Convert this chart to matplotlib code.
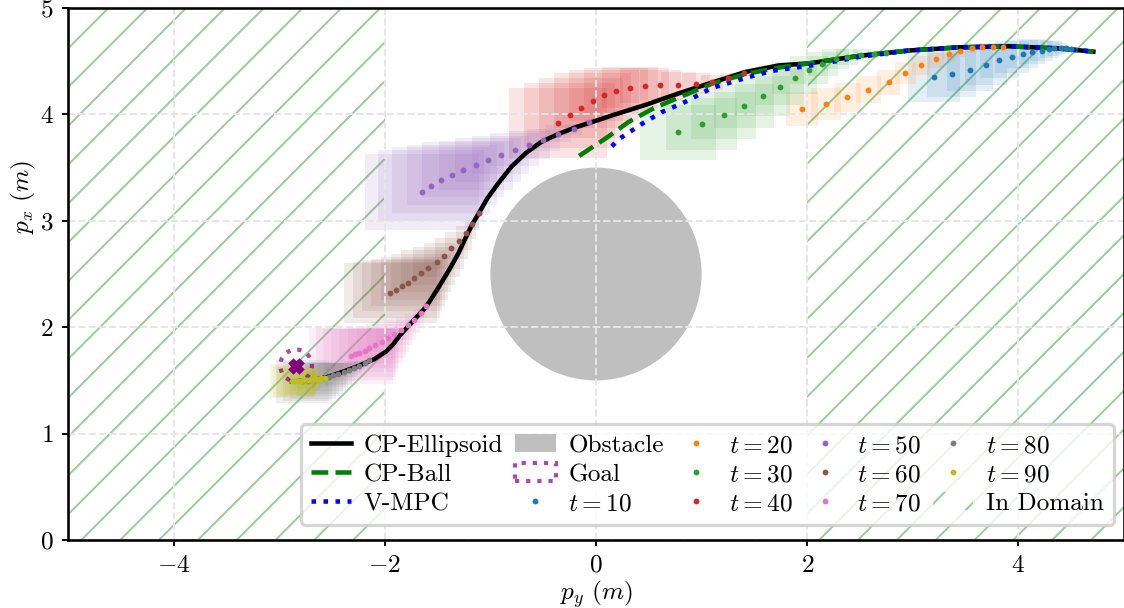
import matplotlib.pyplot as plt
import numpy as np
from matplotlib.patches import Circle, Rectangle

plt.rcParams['font.family'] = 'serif'
plt.rcParams['font.serif'] = ['cmr10']
plt.rcParams['mathtext.fontset'] = 'cm'
plt.rcParams['axes.formatter.use_mathtext'] = True
plt.rcParams['font.size'] = 7.8
plt.rcParams['hatch.linewidth'] = 0.6

# trajectories (p_y, p_x)
ell_x = [-2.88, -2.70, -2.55, -2.40, -2.24, -2.10, -1.99, -1.92, -1.86, -1.74, -1.61, -1.50, -1.39,
         -1.30, -1.23, -1.17, -1.11, -1.03, -0.92, -0.80, -0.66, -0.52, -0.37, -0.19, 0.0, 0.15,
         0.47, 0.79, 1.10, 1.42, 1.73, 2.02, 2.49, 2.96, 3.43, 3.91, 4.38, 4.71]
ell_y = [1.49, 1.50, 1.53, 1.58, 1.64, 1.70, 1.77, 1.84, 1.92, 2.05, 2.19, 2.36, 2.54,
         2.70, 2.85, 2.97, 3.07, 3.21, 3.36, 3.51, 3.64, 3.74, 3.81, 3.88, 3.94, 3.99,
         4.09, 4.20, 4.30, 4.40, 4.46, 4.48, 4.55, 4.60, 4.63, 4.64, 4.62, 4.59]
ball_x = [-0.16, 0.10, 0.31, 0.55, 0.79, 1.10, 1.42, 1.73, 2.02, 2.49, 2.96, 3.43, 3.91, 4.38, 4.71]
ball_y = [3.61, 3.78, 3.93, 4.06, 4.16, 4.29, 4.38, 4.44, 4.48, 4.55, 4.60, 4.63, 4.64, 4.62, 4.59]
vmpc_x = [0.15, 0.22, 0.45, 0.62, 0.85, 1.10, 1.48, 1.67, 2.11, 2.49, 2.96, 3.43, 3.91, 4.38, 4.71]
vmpc_y = [3.70, 3.77, 3.92, 4.02, 4.12, 4.25, 4.36, 4.41, 4.47, 4.54, 4.60, 4.63, 4.64, 4.62, 4.59]

obstacle_center = (0.0, 2.5)
obstacle_radius = 1.0
goal_center = (-2.84, 1.64)
goal_radius = 0.15
domain_spans = [(-5, -2), (2, 5)]

# predictions at each time step, far horizon -> near
steps = [10, 20, 30, 40, 50, 60, 70, 80, 90]
pred_x = [
    [3.20, 3.37, 3.54, 3.69, 3.82, 3.94, 4.04, 4.13, 4.22, 4.29, 4.34, 4.40, 4.45, 4.50],
    [1.95, 2.18, 2.38, 2.58, 2.77, 2.93, 3.08, 3.22, 3.34, 3.45, 3.56, 3.66, 3.76, 3.85],
    [0.78, 1.00, 1.21, 1.40, 1.58, 1.74, 1.88, 2.02, 2.14, 2.27, 2.38, 2.51, 2.63, 2.75],
    [-0.36, -0.25, -0.14, -0.03, 0.08, 0.19, 0.32, 0.46, 0.61, 0.78, 0.95, 1.10, 1.25, 1.40],
    [-1.65, -1.56, -1.47, -1.36, -1.26, -1.14, -1.02, -0.90, -0.77, -0.63, -0.50, -0.36, -0.21, -0.07],
    [-1.95, -1.89, -1.84, -1.78, -1.72, -1.66, -1.59, -1.51, -1.44, -1.37, -1.30, -1.23, -1.17, -1.11],
    [-2.32, -2.28, -2.24, -2.19, -2.15, -2.09, -2.03, -1.97, -1.91, -1.85, -1.78, -1.72, -1.66, -1.61],
    [-2.78, -2.73, -2.68, -2.63, -2.58, -2.53, -2.49, -2.44, -2.39, -2.34, -2.29, -2.24, -2.19, -2.15],
    [-2.88, -2.86, -2.84, -2.82, -2.79, -2.77, -2.74, -2.72, -2.69, -2.67, -2.64, -2.62, -2.60, -2.57],
]
pred_y = [
    [4.35, 4.38, 4.42, 4.46, 4.51, 4.54, 4.57, 4.59, 4.60, 4.61, 4.62, 4.62, 4.62, 4.61],
    [4.05, 4.10, 4.16, 4.23, 4.30, 4.39, 4.46, 4.52, 4.57, 4.60, 4.62, 4.63, 4.63, 4.63],
    [3.83, 3.91, 3.99, 4.08, 4.17, 4.26, 4.34, 4.42, 4.47, 4.52, 4.54, 4.56, 4.57, 4.58],
    [3.92, 3.99, 4.06, 4.13, 4.18, 4.22, 4.25, 4.27, 4.28, 4.28, 4.29, 4.30, 4.34, 4.39],
    [3.27, 3.33, 3.38, 3.43, 3.48, 3.52, 3.57, 3.62, 3.67, 3.71, 3.76, 3.82, 3.86, 3.93],
    [2.32, 2.35, 2.39, 2.42, 2.46, 2.51, 2.56, 2.61, 2.67, 2.74, 2.81, 2.89, 2.97, 3.07],
    [1.73, 1.75, 1.76, 1.78, 1.80, 1.83, 1.86, 1.90, 1.94, 1.97, 2.02, 2.07, 2.13, 2.20],
    [1.49, 1.49, 1.50, 1.51, 1.52, 1.53, 1.55, 1.56, 1.58, 1.60, 1.62, 1.64, 1.66, 1.69],
    [1.49, 1.49, 1.49, 1.49, 1.49, 1.50, 1.50, 1.50, 1.50, 1.51, 1.51, 1.51, 1.52, 1.52],
]
# largest uncertainty box half-size (p_y, p_x) for each time step
box_hx = [0.25, 0.15, 0.36, 0.46, 0.54, 0.44, 0.40, 0.25, 0.21]
box_hy = [0.23, 0.16, 0.26, 0.33, 0.36, 0.28, 0.26, 0.20, 0.16]
# relative box size along the horizon, far -> near
box_scale = [1.0, 0.93, 0.86, 0.79, 0.72, 0.65, 0.58, 0.5, 0.43, 0.36, 0.29, 0.22, 0.15, 0.08]

colors = ['tab:blue', 'tab:orange', 'tab:green', 'tab:red', 'tab:purple',
          'tab:brown', 'tab:pink', 'tab:gray', 'tab:olive']

dpi = 233
fig = plt.figure(figsize=(1124 / dpi, 608 / dpi), dpi=dpi)
ax = fig.add_axes([68 / 1124, 68 / 608, 1 - 68 / 1124, 532 / 608])

# hatched domain
for i, (a, b) in enumerate(domain_spans):
    ax.add_patch(Rectangle((a, 0), b - a, 5, fill=False, hatch='//', edgecolor='#99cc99',
                           lw=0, zorder=0, label='In Domain' if i == 0 else None))

# uncertainty boxes
for k in range(len(steps)):
    for j in range(len(pred_x[k])):
        hx = box_hx[k] * box_scale[j]
        hy = box_hy[k] * box_scale[j]
        ax.add_patch(Rectangle((pred_x[k][j] - hx, pred_y[k][j] - hy), 2 * hx, 2 * hy,
                               facecolor=colors[k], edgecolor='none', alpha=0.12, zorder=1))

ax.add_patch(Circle(obstacle_center, obstacle_radius, facecolor='gray', alpha=0.5,
                    edgecolor='none', zorder=1, label='Obstacle'))
ax.add_patch(Circle(goal_center, goal_radius, fill=False, edgecolor='purple', alpha=0.7,
                    ls=':', lw=1.3, zorder=3, label='Goal'))
ax.plot(goal_center[0], goal_center[1], 'X', color='purple', ms=3.5, zorder=4)

ax.plot(ell_x, ell_y, '-', color='black', lw=1.4, zorder=3, label='CP-Ellipsoid')
ax.plot(ball_x, ball_y, '--', color='green', lw=1.4, zorder=3, label='CP-Ball')
ax.plot(vmpc_x, vmpc_y, ':', color='blue', lw=1.4, zorder=3, label='V-MPC')

for k in range(len(steps)):
    ax.plot(pred_x[k], pred_y[k], 'o', color=colors[k], ms=1.8, mew=0, zorder=5,
            label='$t = %d$' % steps[k])

ax.set_xlim(-5, 5)
ax.set_ylim(0, 5)
ax.set_xticks([-4, -2, 0, 2, 4])
ax.set_yticks([0, 1, 2, 3, 4, 5])
ax.tick_params(length=2, width=0.6, pad=2.5)
ax.grid(True, ls='--', lw=0.6, color='#e6e6e6')
ax.set_xlabel('$p_y\\ (m)$')
ax.set_ylabel('$p_x\\ (m)$')
ax.xaxis.set_label_coords(0.5, -0.072)
ax.yaxis.set_label_coords(-0.028, 0.645)

handles, labels = ax.get_legend_handles_labels()
order = [labels.index(s) for s in ['CP-Ellipsoid', 'CP-Ball', 'V-MPC', 'Obstacle', 'Goal']]
order += [labels.index('$t = %d$' % s) for s in steps]
order += [labels.index('In Domain')]
ax.legend([handles[i] for i in order], [labels[i] for i in order], ncol=5,
          loc='lower right', bbox_to_anchor=(0.9905, 0.028), borderaxespad=0,
          handlelength=1.6, handletextpad=0.5, columnspacing=0.47, labelspacing=0.25)

fig.savefig('out.png', dpi=dpi)
